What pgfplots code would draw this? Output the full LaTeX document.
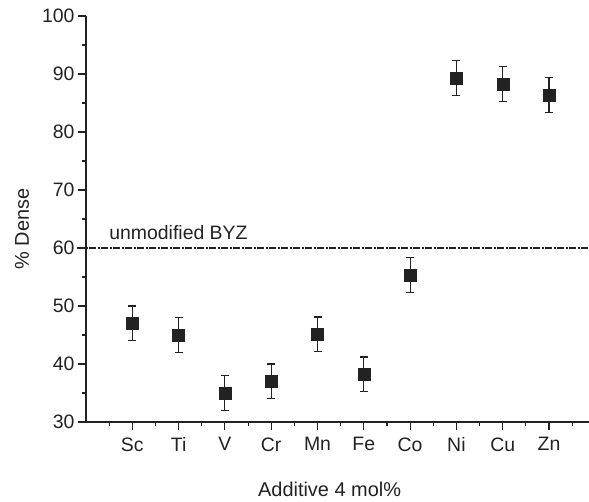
\documentclass[border=0pt]{standalone}
\usepackage{fontspec}
\setmainfont{Liberation Sans}
\usepackage{pgfplots}
\pgfplotsset{compat=1.18}
\definecolor{ink}{HTML}{222222}
\begin{document}
\begin{tikzpicture}[x=1bp,y=1bp]
\useasboundingbox (-86bp,-80bp) rectangle (503bp,422bp);
\begin{axis}[
  x=46.3bp, y=5.8bp,
  xmin=0, xmax=10.87, ymin=30, ymax=100,
  axis lines=left,
  axis line style={ink, line width=1.2bp, -},
  clip=false,
  xtick={1,...,10},
  xticklabels={Sc,Ti,V,Cr,Mn,Fe,Co,Ni,Cu,Zn},
  minor xtick={0.5,1.5,...,10.5},
  ytick={30,40,...,100},
  minor ytick={35,45,...,95},
  tick align=outside,
  major tick length=8bp,
  minor tick length=4bp,
  tick style={ink, line width=1.1bp},
  /pgf/number format/assume math mode=true,
  tick label style={font=\fontsize{19.5}{22}\selectfont, text=ink},
  xticklabel style={yshift=-4bp},
  yticklabel style={xshift=0bp},
  label style={font=\fontsize{20}{23}\selectfont, text=ink},
  xlabel={Additive 4 mol\%},
  ylabel={\% Dense},
  xlabel style={at={(axis description cs:0.484,0)}, anchor=center, yshift=-67bp},
  ylabel style={at={(axis description cs:0,0.475)}, anchor=center, yshift=64bp},
]
\addplot[ink, line width=1.1bp, dash pattern=on 7bp off 1.5bp on 2bp off 1.5bp, forget plot]
  coordinates {(-0.19,60) (10.87,60)};
\node[anchor=south west, inner sep=0pt, font=\fontsize{19.5}{22}\selectfont, text=ink]
  at (axis cs:0.5,61.4) {unmodified BYZ};
\addplot[only marks, mark=square*, mark size=6bp, ink, mark options={fill=ink},
  error bars/.cd, y dir=both, y explicit,
  error bar style={ink, line width=1.1bp},
  error mark options={rotate=90, mark size=4bp, line width=1.1bp}]
  coordinates {
    (1,47) +- (0,3)
    (2,45) +- (0,3)
    (3,35) +- (0,3)
    (4,37) +- (0,3)
    (5,45.1) +- (0,3)
    (6,38.2) +- (0,3)
    (7,55.3) +- (0,3)
    (8,89.3) +- (0,3)
    (9,88.3) +- (0,3)
    (10,86.4) +- (0,3)
  };
\end{axis}
\end{tikzpicture}
\end{document}
